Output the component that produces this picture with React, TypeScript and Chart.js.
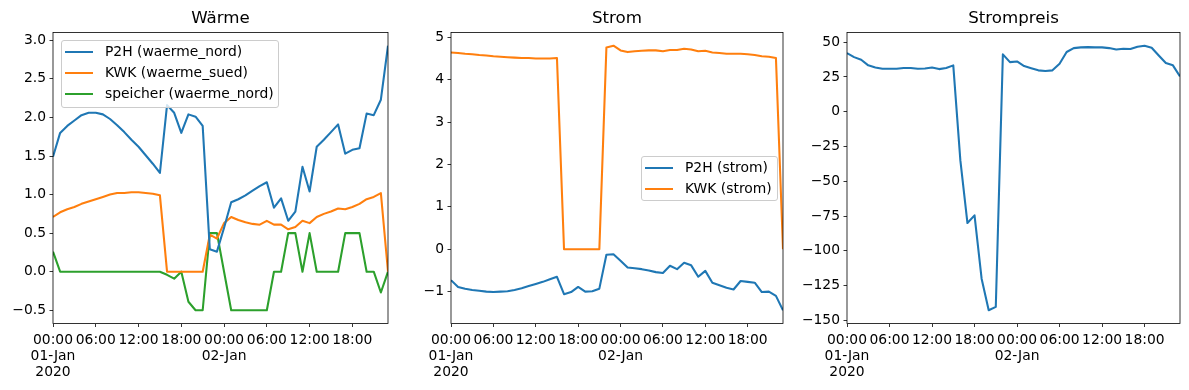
import React, { useEffect, useRef } from "react";
import { Chart, registerables } from "chart.js";

Chart.register(...registerables);

// ---- data ----
const HOURS = [
  0, 1, 2, 3, 4, 5, 6, 7, 8, 9, 10, 11, 12, 13, 14, 15, 16, 17, 18, 19, 20, 21, 22, 23,
  24, 25, 26, 27, 28, 29, 30, 31, 32, 33, 34, 35, 36, 37, 38, 39, 40, 41, 42, 43, 44, 45, 46, 47,
];

const X_TICKS = [0, 6, 12, 18, 24, 30, 36, 42];
const X_TICK_LABELS: string[][] = [
  ["00:00", "01-Jan", "2020"],
  ["06:00"],
  ["12:00"],
  ["18:00"],
  ["00:00", "02-Jan"],
  ["06:00"],
  ["12:00"],
  ["18:00"],
];

// Wärme
const P2H_WAERME_NORD = [
  1.49, 1.80, 1.89, 1.96, 2.03, 2.06, 2.06, 2.04, 1.98, 1.90, 1.81, 1.71, 1.62, 1.51, 1.40, 1.28,
  2.16, 2.06, 1.80, 2.04, 2.01, 1.89, 0.29, 0.26, 0.57, 0.90, 0.94, 0.99, 1.05, 1.11, 1.16, 0.83,
  0.95, 0.66, 0.78, 1.36, 1.04, 1.62, 1.71, 1.81, 1.91, 1.53, 1.58, 1.60, 2.05, 2.03, 2.23, 2.93,
];
const KWK_WAERME_SUED = [
  0.71, 0.77, 0.81, 0.84, 0.88, 0.91, 0.94, 0.97, 1.00, 1.02, 1.02, 1.03, 1.03, 1.02, 1.01, 0.99,
  0, 0, 0, 0, 0, 0, 0.48, 0.43, 0.63, 0.71, 0.67, 0.64, 0.62, 0.61, 0.66, 0.61,
  0.61, 0.55, 0.58, 0.66, 0.63, 0.71, 0.75, 0.78, 0.82, 0.81, 0.84, 0.88, 0.94, 0.97, 1.02, 0,
];
const SPEICHER_WAERME_NORD = [
  0.26, 0, 0, 0, 0, 0, 0, 0, 0, 0, 0, 0, 0, 0, 0, 0,
  -0.04, -0.09, 0, -0.39, -0.5, -0.5, 0.5, 0.5, 0, -0.5, -0.5, -0.5, -0.5, -0.5, -0.5, 0,
  0, 0.5, 0.5, 0, 0.5, 0, 0, 0, 0, 0.5, 0.5, 0.5, 0, 0, -0.27, 0,
];
const WAERME_Y_TICKS = [-0.5, 0, 0.5, 1.0, 1.5, 2.0, 2.5, 3.0];

// Strom
const P2H_STROM = [
  -0.73, -0.89, -0.93, -0.96, -0.98, -1.00, -1.01, -1.00, -0.99, -0.96, -0.92, -0.87, -0.82, -0.77, -0.71, -0.65,
  -1.06, -1.01, -0.89, -1.00, -0.99, -0.93, -0.13, -0.12, -0.27, -0.43, -0.45, -0.47, -0.50, -0.54, -0.56, -0.39,
  -0.47, -0.32, -0.38, -0.65, -0.51, -0.79, -0.85, -0.91, -0.95, -0.75, -0.77, -0.79, -1.01, -1.00, -1.10, -1.44,
];
const KWK_STROM = [
  4.64, 4.63, 4.61, 4.60, 4.58, 4.57, 4.55, 4.54, 4.53, 4.52, 4.51, 4.51, 4.50, 4.50, 4.50, 4.51,
  0, 0, 0, 0, 0, 0, 4.76, 4.80, 4.69, 4.65, 4.67, 4.68, 4.69, 4.69, 4.67, 4.70,
  4.70, 4.73, 4.71, 4.67, 4.68, 4.64, 4.63, 4.61, 4.61, 4.61, 4.60, 4.58, 4.55, 4.54, 4.51, 0,
];
const STROM_Y_TICKS = [-1, 0, 1, 2, 3, 4, 5];

// Strompreis
const STROMPREIS = [
  42.1, 39.2, 37.3, 33.3, 31.8, 30.8, 30.8, 30.8, 31.4, 31.4, 30.8, 31.1, 31.8, 30.6, 31.4, 33.3,
  -35, -80, -74.5, -120, -142.7, -140.3, 41.2, 35.6, 36.1, 32.8, 31.3, 29.7, 29.2, 29.7, 34.5, 42.9,
  45.7, 46.2, 46.4, 46.2, 46.2, 45.7, 44.7, 45.2, 45.0, 46.7, 47.4, 46.0, 40.4, 35.0, 33.3, 25.4,
];
const PREIS_Y_TICKS = [-150, -125, -100, -75, -50, -25, 0, 25, 50];

const BLUE = "#1f77b4";
const ORANGE = "#ff7f0e";
const GREEN = "#2ca02c";
const FONT = "'DejaVu Sans', sans-serif";

type Series = { label: string; data: number[]; color: string };
type Panel = {
  title: string;
  left: number;
  width: number;
  axisWidth: number;
  rightPad: number;
  series: Series[];
  yTicks: number[];
  decimals: number;
  legend?: { left: number; top: number; width: number; height: number };
};

const PANELS: Panel[] = [
  {
    title: "Wärme",
    left: 0,
    width: 400,
    axisWidth: 53,
    rightPad: 12,
    series: [
      { label: "P2H (waerme_nord)", data: P2H_WAERME_NORD, color: BLUE },
      { label: "KWK (waerme_sued)", data: KWK_WAERME_SUED, color: ORANGE },
      { label: "speicher (waerme_nord)", data: SPEICHER_WAERME_NORD, color: GREEN },
    ],
    yTicks: WAERME_Y_TICKS,
    decimals: 1,
    legend: { left: 60.5, top: 39.5, width: 218.5, height: 68 },
  },
  {
    title: "Strom",
    left: 400,
    width: 395,
    axisWidth: 51,
    rightPad: 12,
    series: [
      { label: "P2H (strom)", data: P2H_STROM, color: BLUE },
      { label: "KWK (strom)", data: KWK_STROM, color: ORANGE },
    ],
    yTicks: STROM_Y_TICKS,
    decimals: 0,
    legend: { left: 640.5, top: 155.5, width: 137, height: 45.5 },
  },
  {
    title: "Strompreis",
    left: 795,
    width: 394,
    axisWidth: 52,
    rightPad: 9,
    series: [{ label: "Strompreis", data: STROMPREIS, color: BLUE }],
    yTicks: PREIS_Y_TICKS,
    decimals: 0,
  },
];

const fmt = (v: number, d: number) => v.toFixed(d).replace("-", "\u2212");

const framePlugin = {
  id: "frame",
  afterDatasetsDraw(chart: any) {
    const { ctx, chartArea: a } = chart;
    ctx.save();
    ctx.strokeStyle = "#000";
    ctx.lineWidth = 0.8;
    ctx.strokeRect(a.left, a.top, a.right - a.left, a.bottom - a.top);
    ctx.restore();
  },
};

function makeChart(canvas: HTMLCanvasElement, p: Panel) {
  let lo = Infinity;
  let hi = -Infinity;
  p.series.forEach((s) =>
    s.data.forEach((v) => {
      lo = Math.min(lo, v);
      hi = Math.max(hi, v);
    })
  );
  const m = (hi - lo) * 0.05;
  const tickFont = { family: FONT, size: 13.89, lineHeight: 1.15 };
  return new Chart(canvas, {
    type: "line",
    data: {
      datasets: p.series.map((s) => ({
        label: s.label,
        data: HOURS.map((h, i) => ({ x: h, y: s.data[i] })),
        borderColor: s.color,
        backgroundColor: s.color,
        borderWidth: 2.08,
        pointRadius: 0,
        tension: 0,
        fill: false,
        borderJoinStyle: "round",
      })),
    },
    options: {
      responsive: false,
      animation: false,
      devicePixelRatio: 1,
      layout: { padding: { left: 0, right: p.rightPad, top: 0, bottom: 0 } },
      plugins: {
        legend: { display: false },
        tooltip: { enabled: false },
        title: {
          display: true,
          text: p.title,
          fullSize: false,
          color: "#000",
          font: { family: FONT, size: 16.67, weight: "normal", lineHeight: 1.2 },
          padding: { top: 9, bottom: 3.5 },
        },
      },
      scales: {
        x: {
          type: "linear",
          min: HOURS[0],
          max: HOURS[HOURS.length - 1],
          border: { display: false },
          grid: {
            drawOnChartArea: false,
            drawTicks: true,
            tickLength: 3.5,
            tickColor: "#000",
            tickWidth: 0.8,
          },
          ticks: {
            color: "#000",
            font: tickFont,
            padding: 5.5,
            maxRotation: 0,
            autoSkip: false,
            callback: (v: any) => {
              const i = X_TICKS.indexOf(Number(v));
              return i >= 0 ? X_TICK_LABELS[i] : "";
            },
          },
          afterBuildTicks: (s: any) => {
            s.ticks = X_TICKS.map((v) => ({ value: v }));
          },
          afterFit: (s: any) => {
            s.height = 66.5;
          },
        },
        y: {
          type: "linear",
          min: lo - m,
          max: hi + m,
          border: { display: false },
          grid: {
            drawOnChartArea: false,
            drawTicks: true,
            tickLength: 3.5,
            tickColor: "#000",
            tickWidth: 0.8,
          },
          ticks: {
            color: "#000",
            font: tickFont,
            padding: 3.5,
            autoSkip: false,
            callback: (v: any) => fmt(Number(v), p.decimals),
          },
          afterBuildTicks: (s: any) => {
            s.ticks = p.yTicks.map((v) => ({ value: v }));
          },
          afterFit: (s: any) => {
            s.width = p.axisWidth;
          },
        },
      },
    } as any,
    plugins: [framePlugin],
  } as any);
}

function Legend({ p }: { p: Panel }) {
  if (!p.legend) return null;
  const L = p.legend;
  return (
    <div
      style={{
        position: "absolute",
        left: L.left,
        top: L.top,
        width: L.width,
        height: L.height,
        border: "1px solid #cccccc",
        borderRadius: 3,
        background: "rgba(255,255,255,0.8)",
        boxSizing: "border-box",
        fontFamily: FONT,
        fontSize: 13.89,
        color: "#000",
      }}
    >
      {p.series.map((s, i) => (
        <div
          key={s.label}
          style={{
            position: "absolute",
            left: 3.5,
            top: 0.5 + i * 21,
            height: 21,
            display: "flex",
            alignItems: "center",
            whiteSpace: "nowrap",
          }}
        >
          <div style={{ width: 28, height: 2, background: s.color, marginRight: 12 }} />
          <span style={{ lineHeight: "21px" }}>{s.label}</span>
        </div>
      ))}
    </div>
  );
}

export default function App() {
  const r0 = useRef<HTMLCanvasElement>(null);
  const r1 = useRef<HTMLCanvasElement>(null);
  const r2 = useRef<HTMLCanvasElement>(null);
  const refs = [r0, r1, r2];

  useEffect(() => {
    Chart.defaults.font.family = FONT;
    const charts = PANELS.map((p, i) => makeChart(refs[i].current as HTMLCanvasElement, p));
    return () => charts.forEach((c) => c.destroy());
  }, []);

  return (
    <div
      style={{
        position: "absolute",
        left: 0,
        top: 0,
        width: 1189,
        height: 390,
        background: "#fff",
        overflow: "hidden",
      }}
    >
      {PANELS.map((p, i) => (
        <canvas
          key={p.title}
          ref={refs[i]}
          width={p.width}
          height={390}
          style={{ position: "absolute", left: p.left, top: 0, width: p.width, height: 390 }}
        />
      ))}
      {PANELS.map((p) => (
        <Legend key={p.title + "-legend"} p={p} />
      ))}
    </div>
  );
}
